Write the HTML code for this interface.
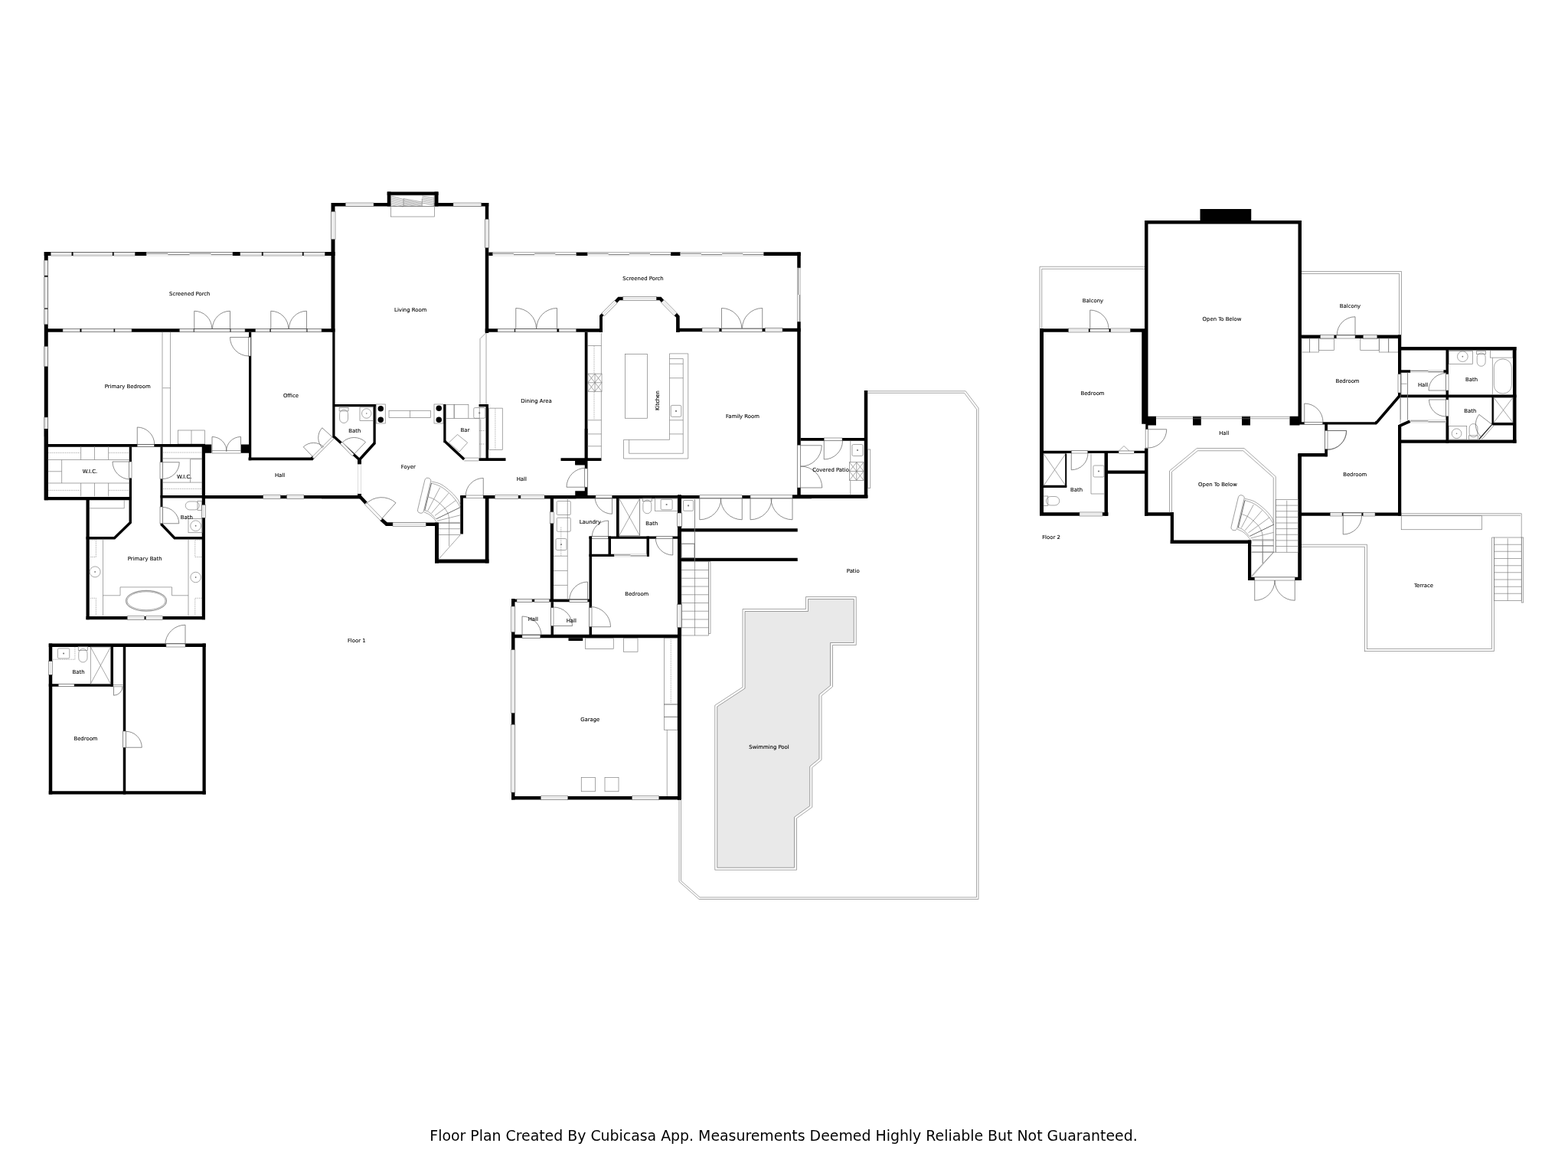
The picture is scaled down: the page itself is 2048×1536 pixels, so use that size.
<!DOCTYPE html>
<html><head><meta charset="utf-8"><title>Floor Plan</title>
<style>
html,body{margin:0;padding:0;background:#fff;}
body{width:2048px;height:1536px;overflow:hidden;position:relative;font-family:"DejaVu Sans","Liberation Sans",sans-serif;}
svg{position:absolute;left:0;top:0;display:block;opacity:.999;will-change:opacity}
.b{fill:#000}
.g{fill:#777}
.tub{fill:#fff;stroke:#999;stroke-width:1.2}
.w{fill:#fff}
.k{fill:none;stroke:#000;stroke-linecap:butt;stroke-linejoin:miter}
.t{fill:none;stroke:#777;stroke-width:.65}
.tf{fill:#fff;stroke:#777;stroke-width:.65}
.wn{fill:#fff;stroke:#555;stroke-width:.55}
.sl{fill:#fff;stroke:#bbb;stroke-width:.5}
.sp{fill:none;stroke:#8a8a8a;stroke-width:1.2}
.d{fill:none;stroke:#5c5c5c;stroke-width:.7}
.ti{fill:none;stroke:#999;stroke-width:.3}
.l{font-family:"DejaVu Sans","Liberation Sans",sans-serif;font-size:6.9px;fill:#000;stroke:#000;stroke-width:.12;text-anchor:middle}
.cap{font-family:"DejaVu Sans","Liberation Sans",sans-serif;font-size:18.9px;fill:#000;text-anchor:middle}
</style></head><body>
<svg width="2048" height="1536" viewBox="0 0 2048 1536">
<rect class="b" x="57.75" y="329" width="379.75" height="5"/>
<rect class="wn" x="66.25" y="329.5" width="27.5" height="4.5"/>
<path class="ti" d="M66.25 331.12 H93.75"/>
<path class="ti" d="M66.25 332.38 H93.75"/>
<rect class="wn" x="95.5" y="329.5" width="51.5" height="4.5"/>
<path class="ti" d="M95.5 331.12 H147"/>
<path class="ti" d="M95.5 332.38 H147"/>
<rect class="wn" x="148.75" y="329.5" width="27.5" height="4.5"/>
<path class="ti" d="M148.75 331.12 H176.25"/>
<path class="ti" d="M148.75 332.38 H176.25"/>
<rect class="wn" x="313.75" y="329.5" width="28.25" height="4.5"/>
<path class="ti" d="M313.75 331.12 H342"/>
<path class="ti" d="M313.75 332.38 H342"/>
<rect class="wn" x="343.75" y="329.5" width="51.25" height="4.5"/>
<path class="ti" d="M343.75 331.12 H395"/>
<path class="ti" d="M343.75 332.38 H395"/>
<rect class="wn" x="396.75" y="329.5" width="27.5" height="4.5"/>
<path class="ti" d="M396.75 331.12 H424.25"/>
<path class="ti" d="M396.75 332.38 H424.25"/>
<rect class="sl" x="191.25" y="329.75" width="112.5" height="4.25"/>
<path class="sp" d="M191.25 331.28 H219.38"/>
<path class="sp" d="M219.38 332.47 H247.5"/>
<path class="sp" d="M247.5 331.28 H275.62"/>
<path class="sp" d="M275.62 332.47 H303.75"/>
<rect class="b" x="57.75" y="329" width="5" height="324"/>
<rect class="wn" x="58" y="340" width="4.5" height="20"/>
<path class="ti" d="M59.62 340 V360"/>
<path class="ti" d="M60.88 340 V360"/>
<rect class="wn" x="58" y="361.75" width="4.5" height="40.75"/>
<path class="ti" d="M59.62 361.75 V402.5"/>
<path class="ti" d="M60.88 361.75 V402.5"/>
<rect class="wn" x="58" y="403.75" width="4.5" height="20"/>
<path class="ti" d="M59.62 403.75 V423.75"/>
<path class="ti" d="M60.88 403.75 V423.75"/>
<rect class="wn" x="58" y="452.5" width="4.5" height="26.25"/>
<path class="ti" d="M59.62 452.5 V478.75"/>
<path class="ti" d="M60.88 452.5 V478.75"/>
<rect class="wn" x="58" y="545" width="4.5" height="25"/>
<path class="ti" d="M59.62 545 V570"/>
<path class="ti" d="M60.88 545 V570"/>
<rect class="b" x="58" y="429.25" width="379.5" height="4.5"/>
<rect class="wn" x="82" y="429.25" width="22.5" height="4.5"/>
<path class="ti" d="M82 430.87 H104.5"/>
<path class="ti" d="M82 432.13 H104.5"/>
<rect class="wn" x="106.25" y="429.25" width="42.5" height="4.5"/>
<path class="ti" d="M106.25 430.87 H148.75"/>
<path class="ti" d="M106.25 432.13 H148.75"/>
<rect class="wn" x="150" y="429.25" width="22" height="4.5"/>
<path class="ti" d="M150 430.87 H172"/>
<path class="ti" d="M150 432.13 H172"/>
<rect class="wn" x="234.5" y="429.25" width="18.5" height="4.5"/>
<path class="ti" d="M234.5 430.87 H253"/>
<path class="ti" d="M234.5 432.13 H253"/>
<rect class="wn" x="301.25" y="429.25" width="18.75" height="4.5"/>
<path class="ti" d="M301.25 430.87 H320"/>
<path class="ti" d="M301.25 432.13 H320"/>
<rect class="wn" x="333.75" y="429.25" width="18.75" height="4.5"/>
<path class="ti" d="M333.75 430.87 H352.5"/>
<path class="ti" d="M333.75 432.13 H352.5"/>
<rect class="wn" x="401.25" y="429.25" width="18.75" height="4.5"/>
<path class="ti" d="M401.25 430.87 H420"/>
<path class="ti" d="M401.25 432.13 H420"/>
<rect class="wn" x="253.75" y="429.75" width="46.75" height="4"/>
<path class="d" d="M253.75 429.25 L253.75 406.25 A23 23 0 0 1 276.75 429.25"/>
<path class="d" d="M300.5 429.25 L300.5 406.25 A23 23 0 0 0 277.5 429.25"/>
<rect class="wn" x="353.75" y="429.75" width="46.75" height="4"/>
<path class="d" d="M353.75 429.25 L353.75 406.25 A23 23 0 0 1 376.75 429.25"/>
<path class="d" d="M400.5 429.25 L400.5 406.25 A23 23 0 0 0 377.5 429.25"/>
<rect class="b" x="432.5" y="265" width="5" height="168.75"/>
<rect class="b" x="434.25" y="433.75" width="3.25" height="138.25"/>
<rect class="wn" x="432.5" y="276.25" width="5.5" height="36.25"/>
<path class="ti" d="M434.48 276.25 V312.5"/>
<path class="ti" d="M436.02 276.25 V312.5"/>
<rect class="b" x="325" y="433.75" width="3.25" height="167.5"/>
<rect class="wn" x="324.5" y="440.5" width="3" height="24.5"/>
<path class="d" d="M325 440.5 L300.5 440.5 A24.5 24.5 0 0 0 325 465"/>
<rect class="b" x="324.5" y="597.5" width="84.25" height="3.75"/>
<path class="k" stroke-width="4" d="M407 599.5 L409.5 597"/>
<path class="wn" d="M407.62 596.87 L433.87 570.62 L436.13 572.88 L409.88 599.13 Z"/>
<path class="d" d="M409.5 597.5 L396.25 583.75 A19.1 19.1 0 0 1 422.81 583.8"/>
<path class="d" d="M435 571.75 L420.75 558.75 A19.29 19.29 0 0 0 421.43 585.46"/>
<rect class="b" x="58" y="580" width="208.25" height="3.5"/>
<rect class="wn" x="179.25" y="580.5" width="22" height="3"/>
<path class="d" d="M179.25 580.5 L179.25 558 A22.5 22.5 0 0 1 201.75 580.5"/>
<path class="t" d="M212 433.75 L212 580"/>
<path class="t" d="M222.5 433.75 L222.5 580"/>
<path class="t" d="M212.5 506.75 L222.5 506.75"/>
<rect class="t" x="232.5" y="562" width="35" height="18"/>
<path class="t" d="M250 562 L250 580"/>
<rect class="b" x="433" y="265" width="77.5" height="4.5"/>
<rect class="b" x="567.5" y="265" width="70.75" height="4.5"/>
<rect class="wn" x="451.25" y="265" width="36.75" height="4.5"/>
<path class="ti" d="M451.25 266.62 H488"/>
<path class="ti" d="M451.25 267.88 H488"/>
<rect class="wn" x="592" y="265" width="36.75" height="4.5"/>
<path class="ti" d="M592 266.62 H628.75"/>
<path class="ti" d="M592 267.88 H628.75"/>
<rect class="b" x="505.75" y="250.5" width="66.75" height="4.5"/>
<rect class="b" x="505.75" y="250.5" width="4.75" height="19"/>
<rect class="b" x="567.5" y="250.5" width="5" height="19"/>
<rect class="t" x="510.5" y="255" width="56.5" height="14.5"/>
<path class="t" d="M527 259.5 L527 269.5"/>
<path class="t" d="M551.25 259.5 L551.25 269.5"/>
<path class="t" d="M510.5 256 L527 260.5"/>
<path class="t" d="M527 259.5 L551.25 264"/>
<path class="t" d="M510.5 258.25 L527 262.75"/>
<path class="t" d="M527 261.25 L551.25 265.75"/>
<path class="t" d="M510.5 260.5 L527 265"/>
<path class="t" d="M527 263 L551.25 267.5"/>
<path class="t" d="M510.5 262.75 L527 267.25"/>
<path class="t" d="M527 264.75 L551.25 269.25"/>
<path class="t" d="M510.5 265 L527 269.5"/>
<path class="t" d="M527 266.5 L543.17 269.5"/>
<path class="t" d="M510.5 267.25 L518.75 269.5"/>
<path class="t" d="M527 268.25 L533.74 269.5"/>
<path class="t" d="M510.5 269.5 L510.5 269.5"/>
<path class="t" d="M527 270 L524.31 269.5"/>
<path class="t" d="M551.25 256 L567 259"/>
<path class="t" d="M551.25 258.25 L567 261.25"/>
<path class="t" d="M551.25 260.5 L567 263.5"/>
<path class="t" d="M551.25 262.75 L567 265.75"/>
<path class="t" d="M551.25 265 L567 268"/>
<rect class="t" x="510.5" y="269.5" width="57" height="13.5"/>
<rect class="b" x="633.75" y="265" width="4.5" height="170"/>
<rect class="wn" x="633.75" y="286.25" width="4.5" height="37.5"/>
<path class="ti" d="M635.37 286.25 V323.75"/>
<path class="ti" d="M636.63 286.25 V323.75"/>
<rect class="b" x="638.25" y="329.5" width="406.75" height="4.5"/>
<rect class="sl" x="643.75" y="329.75" width="108.75" height="4.25"/>
<path class="sp" d="M643.75 331.28 H670.94"/>
<path class="sp" d="M670.94 332.47 H698.12"/>
<path class="sp" d="M698.12 331.28 H725.31"/>
<path class="sp" d="M725.31 332.47 H752.5"/>
<rect class="sl" x="767.5" y="329.75" width="108.75" height="4.25"/>
<path class="sp" d="M767.5 331.28 H794.69"/>
<path class="sp" d="M794.69 332.47 H821.88"/>
<path class="sp" d="M821.88 331.28 H849.06"/>
<path class="sp" d="M849.06 332.47 H876.25"/>
<rect class="sl" x="888.75" y="329.75" width="108.75" height="4.25"/>
<path class="sp" d="M888.75 331.28 H915.94"/>
<path class="sp" d="M915.94 332.47 H943.12"/>
<path class="sp" d="M943.12 331.28 H970.31"/>
<path class="sp" d="M970.31 332.47 H997.5"/>
<rect class="b" x="633.75" y="429.25" width="153.25" height="4.5"/>
<rect class="wn" x="650" y="429.25" width="22" height="4.5"/>
<path class="ti" d="M650 430.87 H672"/>
<path class="ti" d="M650 432.13 H672"/>
<rect class="wn" x="730" y="429.25" width="22.5" height="4.5"/>
<path class="ti" d="M730 430.87 H752.5"/>
<path class="ti" d="M730 432.13 H752.5"/>
<rect class="wn" x="673" y="429.75" width="54.5" height="4"/>
<path class="d" d="M673.75 429.25 L673.75 402.5 A26.75 26.75 0 0 1 700.5 429.25"/>
<path class="d" d="M727.5 429.25 L727.5 402.5 A26.75 26.75 0 0 0 700.75 429.25"/>
<path class="k" stroke-width="3.9" d="M785 434 L785 412.8 L788.2 409.6"/>
<path class="k" stroke-width="4.5" d="M803.8 394.8 L808.3 390 L813.8 390"/>
<rect class="wn" x="813.8" y="387.3" width="43.7" height="5.3"/>
<path class="ti" d="M813.8 389.21 H857.5"/>
<path class="ti" d="M813.8 390.69 H857.5"/>
<path class="k" stroke-width="4.5" d="M857.5 390 L862.5 390 L866 394"/>
<path class="k" stroke-width="4.6" d="M881.8 410 L885.4 413.6 L885.4 434"/>
<path class="wn" d="M785.83 409.13 L802.63 392.33 L806.17 395.87 L789.37 412.67 Z"/>
<path class="ti" d="M787.11 410.41 L803.91 393.61"/>
<path class="ti" d="M788.09 411.39 L804.89 394.59"/>
<path class="wn" d="M867.18 391.64 L884.18 408.84 L880.62 412.36 L863.62 395.16 Z"/>
<path class="ti" d="M865.9 392.91 L882.9 410.11"/>
<path class="ti" d="M864.9 393.89 L881.9 411.09"/>
<rect class="b" x="763.75" y="433.75" width="3.75" height="167.5"/>
<rect class="b" x="625.5" y="598.25" width="35" height="3.75"/>
<rect class="b" x="732.5" y="598.25" width="53" height="3.75"/>
<rect class="b" x="751.25" y="602" width="15" height="5.5"/>
<rect class="b" x="435" y="528" width="55.75" height="3.25"/>
<rect class="b" x="487.5" y="528" width="3.25" height="52"/>
<path class="k" stroke-width="3.6" d="M489.25 578.75 L469.5 600.5 L436.5 570.5"/>
<rect class="t" x="491.25" y="528" width="12" height="25"/>
<rect class="t" x="567" y="528" width="12" height="25"/>
<circle class="b" cx="497.25" cy="533.75" r="3.75"/>
<circle class="b" cx="497.25" cy="548.25" r="3.75"/>
<circle class="b" cx="573.25" cy="533.25" r="3.75"/>
<circle class="b" cx="573.25" cy="548.25" r="3.75"/>
<rect class="t" x="508" y="536.25" width="54.5" height="9.25"/>
<path class="t" d="M535.5 536.25 L535.5 545.5"/>
<rect class="b" x="579.25" y="528" width="3.25" height="50"/>
<path class="k" stroke-width="3.6" d="M580.75 576.25 L606.25 600"/>
<rect class="b" x="634.5" y="528" width="3.5" height="74"/>
<rect class="b" x="625.5" y="528" width="12.5" height="3.25"/>
<path class="t" d="M635 435 L635 528"/>
<path class="t" d="M627 442.5 L627 528"/>
<path class="t" d="M627 442.5 L634.5 435"/>
<rect class="b" x="58" y="580" width="208.25" height="3.5"/>
<rect class="wn" x="179.25" y="580.5" width="22" height="3"/>
<rect class="b" x="57.75" y="560" width="5" height="93.25"/>
<rect class="b" x="58" y="649" width="113.75" height="4.25"/>
<rect class="b" x="168.75" y="583.5" width="3.25" height="66.5"/>
<rect class="wn" x="168.75" y="603" width="3.25" height="21.5"/>
<path class="d" d="M170 603 L147 603 A23 23 0 0 0 170 626"/>
<rect class="b" x="209.5" y="583.5" width="3" height="102.75"/>
<rect class="wn" x="209" y="603.75" width="3.5" height="21.75"/>
<path class="d" d="M212.5 603.75 L234.25 603.75 A21.75 21.75 0 0 1 212.5 625.5"/>
<rect class="wn" x="209" y="662" width="3.5" height="21.75"/>
<path class="d" d="M212.5 683.75 L233.75 683.75 A21.25 21.25 0 0 0 212.5 662.5"/>
<rect class="b" x="263.75" y="580" width="4.25" height="229.25"/>
<rect class="wn" x="263.25" y="659.5" width="5" height="16.75"/>
<path class="ti" d="M265.05 659.5 V676.25"/>
<path class="ti" d="M266.45 659.5 V676.25"/>
<rect class="b" x="209.5" y="647" width="56.75" height="3.5"/>
<rect class="b" x="266.25" y="647" width="204.25" height="4.25"/>
<rect class="wn" x="343.75" y="646.5" width="22.5" height="5"/>
<path class="ti" d="M343.75 648.3 H366.25"/>
<path class="ti" d="M343.75 649.7 H366.25"/>
<rect class="wn" x="374.5" y="646.5" width="22.5" height="5"/>
<path class="ti" d="M374.5 648.3 H397"/>
<path class="ti" d="M374.5 649.7 H397"/>
<rect class="b" x="265" y="580.5" width="11.25" height="11.25"/>
<rect class="b" x="315" y="580.5" width="11.75" height="11.25"/>
<rect class="wn" x="277" y="588.75" width="37.5" height="3.25"/>
<path class="d" d="M277 589.5 L277 570.5 A19 19 0 0 1 296 589.5"/>
<path class="d" d="M314.5 589.5 L314.5 570.5 A19 19 0 0 0 295.5 589.5"/>
<rect class="b" x="112.5" y="651.25" width="4.25" height="158"/>
<rect class="b" x="112.5" y="805" width="155.5" height="4.25"/>
<rect class="wn" x="166.25" y="804.75" width="22.5" height="4.75"/>
<path class="ti" d="M166.25 806.46 H188.75"/>
<path class="ti" d="M166.25 807.79 H188.75"/>
<rect class="wn" x="190.5" y="804.75" width="22" height="4.75"/>
<path class="ti" d="M190.5 806.46 H212.5"/>
<path class="ti" d="M190.5 807.79 H212.5"/>
<path class="k" stroke-width="3.4" d="M112.5 702.75 L149.5 702.75 L170.25 682.5 L170.25 650"/>
<path class="k" stroke-width="3.4" d="M211 685 L228 702.75 L266.25 702.75"/>
<rect class="b" x="63.75" y="840.5" width="205" height="4.5"/>
<rect class="wn" x="217" y="841" width="25" height="4"/>
<path class="d" d="M242 842.5 L242 816.25 A26.25 26.25 0 0 0 215.75 842.5"/>
<rect class="b" x="63.75" y="840.5" width="4.5" height="197"/>
<rect class="wn" x="63.25" y="863.75" width="5.5" height="17.5"/>
<path class="ti" d="M65.23 863.75 V881.25"/>
<path class="ti" d="M66.77 863.75 V881.25"/>
<rect class="b" x="63.75" y="893.25" width="83.75" height="3.5"/>
<rect class="wn" x="76.25" y="893.25" width="20.75" height="3.5"/>
<rect class="b" x="144.5" y="845" width="3.5" height="51.75"/>
<rect class="b" x="160.75" y="845" width="3.5" height="192.5"/>
<rect class="b" x="264.5" y="840.5" width="4.25" height="197"/>
<rect class="b" x="63.75" y="1033.25" width="205" height="4.25"/>
<rect class="t" x="118.25" y="845" width="26.25" height="48.25"/>
<path class="t" d="M118.25 845 L144.5 893.25"/>
<path class="t" d="M144.5 845 L118.25 893.25"/>
<path class="d" d="M148.5 896.75 L148.5 908.25 A11.5 11.5 0 0 0 160 896.75"/>
<path class="t" d="M148 894.5 L160.5 894.5"/>
<path class="t" d="M148 896.75 L160.5 896.75"/>
<rect class="wn" x="160.75" y="955" width="3.5" height="21.25"/>
<path class="d" d="M164.25 976.25 L185.25 976.25 A21 21 0 0 0 164.25 955.25"/>
<rect x="467.6" y="606.3" width="4" height="38.7" fill="#fff" stroke="#aaa" stroke-width=".4"/>
<rect class="b" x="467" y="600" width="5" height="6.25"/>
<rect class="b" x="467" y="645" width="5" height="2.5"/>
<rect class="b" x="420" y="647" width="50" height="4.25"/>
<path class="k" stroke-width="4.5" d="M469.5 648 L478 657"/>
<path class="k" stroke-width="4.5" d="M497.5 678 L505 684.75 L513 684.75"/>
<path class="wn" d="M478.79 656.24 L499.54 677.49 L496.96 680.01 L476.21 658.76 Z"/>
<path class="d" d="M498.25 678 L517 656.75 A28.34 28.34 0 0 0 477.61 658.58"/>
<rect class="b" x="503.75" y="682.5" width="68.75" height="4.5"/>
<rect class="wn" x="513" y="682.25" width="43.25" height="5"/>
<path class="ti" d="M513 684.05 H556.25"/>
<path class="ti" d="M513 685.45 H556.25"/>
<rect class="b" x="568" y="682.5" width="5" height="53"/>
<rect class="b" x="568" y="730.5" width="70.5" height="5"/>
<rect class="b" x="633.75" y="647.5" width="4.75" height="88"/>
<rect class="b" x="601.25" y="647.5" width="3.75" height="50"/>
<rect class="b" x="601.25" y="647" width="8" height="3.5"/>
<rect class="wn" x="608.75" y="647" width="22.5" height="3.5"/>
<path class="d" d="M631.25 647.5 L631.25 624.5 A23 23 0 0 0 608.25 647.5"/>
<rect class="b" x="631.25" y="647" width="121.25" height="4.25"/>
<rect class="wn" x="646.25" y="646.75" width="30.75" height="4.75"/>
<path class="ti" d="M646.25 648.46 H677"/>
<path class="ti" d="M646.25 649.79 H677"/>
<rect class="wn" x="680" y="646.75" width="31.25" height="4.75"/>
<path class="ti" d="M680 648.46 H711.25"/>
<path class="ti" d="M680 649.79 H711.25"/>
<rect class="b" x="763.75" y="560" width="3.75" height="88.75"/>
<rect class="b" x="751.25" y="601.25" width="15" height="5.75"/>
<rect class="b" x="751.25" y="641.25" width="15" height="6.25"/>
<rect class="wn" x="763.75" y="612" width="3.75" height="24.25"/>
<path class="d" d="M765 636.25 L740 636.25 A25 25 0 0 1 765 611.25"/>
<rect class="b" x="711.25" y="647" width="348.75" height="4.25"/>
<rect class="b" x="718.75" y="648.75" width="4.25" height="137.5"/>
<rect class="wn" x="718.25" y="668.75" width="5" height="15"/>
<path class="ti" d="M720.05 668.75 V683.75"/>
<path class="ti" d="M721.45 668.75 V683.75"/>
<rect class="wn" x="778" y="647" width="21.5" height="3.5"/>
<path class="d" d="M799.5 648.75 L799.5 671.25 A22.5 22.5 0 0 1 777 648.75"/>
<path class="d" d="M794.5 701.25 L794.5 680 A21.25 21.25 0 0 0 773.25 701.25"/>
<rect class="b" x="769.5" y="700.5" width="118" height="3.25"/>
<rect class="wn" x="773" y="700.5" width="21.5" height="3.25"/>
<rect class="b" x="769.5" y="700.5" width="3.5" height="130.75"/>
<rect class="b" x="794.5" y="700.5" width="3.5" height="26.5"/>
<rect class="b" x="769.5" y="723.75" width="33" height="3.25"/>
<rect class="b" x="844.5" y="700.5" width="3.5" height="26.5"/>
<rect class="sl" x="802.5" y="723.75" width="42" height="3.25"/>
<path class="sp" d="M802.5 724.92 H823.5"/>
<path class="sp" d="M823.5 725.83 H844.5"/>
<rect class="b" x="805" y="648.75" width="3.75" height="53.25"/>
<rect class="t" x="808.75" y="651.25" width="26.75" height="48.25"/>
<path class="t" d="M808.75 651.25 L835.5 699.5"/>
<path class="t" d="M835.5 651.25 L808.75 699.5"/>
<rect class="b" x="885.5" y="647.5" width="4.5" height="185.75"/>
<rect class="wn" x="885" y="670" width="5.25" height="18.75"/>
<path class="ti" d="M886.89 670 V688.75"/>
<path class="ti" d="M888.36 670 V688.75"/>
<rect class="wn" x="857" y="700.5" width="21.75" height="3.25"/>
<path class="d" d="M878.75 702.5 L878.75 725 A22.5 22.5 0 0 1 856.25 702.5"/>
<rect class="wn" x="885" y="788.75" width="5.25" height="31.25"/>
<path class="ti" d="M886.89 788.75 V820"/>
<path class="ti" d="M888.36 788.75 V820"/>
<rect class="b" x="668" y="828.75" width="222" height="4.5"/>
<rect class="wn" x="769.5" y="793.75" width="3.5" height="25"/>
<path class="d" d="M771.25 818.75 L797.5 818.75 A26.25 26.25 0 0 0 771.25 792.5"/>
<rect class="b" x="668" y="782.5" width="102" height="3.75"/>
<rect class="wn" x="675" y="782.25" width="20" height="4.25"/>
<path class="ti" d="M675 783.78 H695"/>
<path class="ti" d="M675 784.97 H695"/>
<rect class="wn" x="698" y="782.25" width="19.5" height="4.25"/>
<path class="ti" d="M698 783.78 H717.5"/>
<path class="ti" d="M698 784.97 H717.5"/>
<rect class="wn" x="743.75" y="783.25" width="23.75" height="3"/>
<path class="d" d="M767.5 783.75 L767.5 760 A23.75 23.75 0 0 0 743.75 783.75"/>
<rect class="b" x="719.5" y="786.25" width="3.5" height="43.75"/>
<rect class="wn" x="719.5" y="793.75" width="3.5" height="23.75"/>
<path class="d" d="M723 817.5 L747.5 817.5 A24.5 24.5 0 0 0 723 793"/>
<rect class="wn" x="682" y="829.5" width="23.75" height="3.75"/>
<path class="d" d="M682 830 L682 805 A25 25 0 0 1 707 830"/>
<rect class="b" x="742.5" y="833.25" width="18.75" height="3.75"/>
<rect class="b" x="668" y="782" width="4.5" height="262.5"/>
<rect class="wn" x="667.5" y="792" width="5.25" height="33.5"/>
<path class="ti" d="M669.39 792 V825.5"/>
<path class="ti" d="M670.86 792 V825.5"/>
<rect class="wn" x="667.5" y="848.75" width="5.25" height="82.5"/>
<path class="ti" d="M669.39 848.75 V931.25"/>
<path class="ti" d="M670.86 848.75 V931.25"/>
<rect class="wn" x="667.5" y="946.25" width="5.25" height="88.75"/>
<path class="ti" d="M669.39 946.25 V1035"/>
<path class="ti" d="M670.86 946.25 V1035"/>
<rect class="b" x="668" y="1040" width="222" height="4.5"/>
<rect class="wn" x="706.25" y="1039.75" width="35.5" height="5"/>
<path class="ti" d="M706.25 1041.55 H741.75"/>
<path class="ti" d="M706.25 1042.95 H741.75"/>
<rect class="wn" x="825.5" y="1039.75" width="35.25" height="5"/>
<path class="ti" d="M825.5 1041.55 H860.75"/>
<path class="ti" d="M825.5 1042.95 H860.75"/>
<rect class="b" x="885" y="830" width="5" height="214.5"/>
<rect class="t" x="764.5" y="833.75" width="36.75" height="13.75"/>
<rect class="t" x="814.5" y="833.75" width="18.5" height="17.5"/>
<rect class="t" x="759.25" y="1015.5" width="18.25" height="18.25"/>
<rect class="t" x="790" y="1015.5" width="18" height="18.25"/>
<rect class="t" x="867.5" y="833.25" width="17.5" height="86.75"/>
<rect class="t" x="867.5" y="920" width="17.5" height="16.25"/>
<rect class="t" x="867.5" y="936.25" width="17.5" height="17"/>
<path class="t" d="M871.25 953.25 L871.25 1040"/>
<path class="t" stroke-dasharray="1.2 1.2" d="M876.25 835 L876.25 918.75"/>
<rect class="b" x="876.25" y="329.5" width="12.5" height="4.5"/>
<rect class="sl" x="888.75" y="329.75" width="108.75" height="4.25"/>
<path class="sp" d="M888.75 331.28 H915.94"/>
<path class="sp" d="M915.94 332.47 H943.12"/>
<path class="sp" d="M943.12 331.28 H970.31"/>
<path class="sp" d="M970.31 332.47 H997.5"/>
<rect class="b" x="997.5" y="329.5" width="48.25" height="4.5"/>
<rect class="b" x="1041.25" y="329.5" width="4.5" height="320.5"/>
<rect class="sl" x="1041.5" y="350" width="4.25" height="70"/>
<path class="sp" d="M1043.03 350 V385"/>
<path class="sp" d="M1044.22 385 V420"/>
<rect class="b" x="883.75" y="428.75" width="162" height="4.5"/>
<rect class="wn" x="917" y="428.5" width="22.5" height="5"/>
<path class="ti" d="M917 430.3 H939.5"/>
<path class="ti" d="M917 431.7 H939.5"/>
<rect class="wn" x="999.25" y="428.5" width="22.75" height="5"/>
<path class="ti" d="M999.25 430.3 H1022"/>
<path class="ti" d="M999.25 431.7 H1022"/>
<rect class="wn" x="942.5" y="429.25" width="53.25" height="4"/>
<path class="d" d="M942.5 428.75 L942.5 402.5 A26.25 26.25 0 0 1 968.75 428.75"/>
<path class="d" d="M995.75 428.75 L995.75 402.5 A26.25 26.25 0 0 0 969.5 428.75"/>
<rect class="b" x="1045.75" y="572" width="86.75" height="3.75"/>
<rect class="wn" x="1076.25" y="572" width="23.75" height="3.75"/>
<path class="d" d="M1076.25 575.75 L1076.25 600 A24.25 24.25 0 0 0 1100.5 575.75"/>
<rect class="b" x="1128.75" y="510" width="4.5" height="140"/>
<rect class="b" x="860" y="647.25" width="273.25" height="3.5"/>
<rect class="b" x="1035" y="646.25" width="98.25" height="4.5"/>
<rect class="wn" x="913.75" y="646.75" width="55.5" height="4"/>
<rect class="wn" x="980" y="646.75" width="55" height="4"/>
<rect class="wn" x="1041.25" y="581.25" width="4.5" height="55.75"/>
<path class="d" d="M1045.75 581.75 L1073.25 581.75 A27.5 27.5 0 0 1 1045.75 609.25"/>
<path class="d" d="M1045.75 637 L1073.75 637 A28 28 0 0 0 1045.75 609"/>
<path class="d" d="M913.75 650.75 L913.75 678.75 A28 28 0 0 0 941.75 650.75"/>
<path class="d" d="M969.25 650.75 L969.25 678.75 A28 28 0 0 1 941.25 650.75"/>
<path class="d" d="M980 650.75 L980 678.75 A28 28 0 0 0 1008 650.75"/>
<path class="d" d="M1035 650.75 L1035 678.75 A28 28 0 0 1 1007 650.75"/>
<path class="t" d="M1110.75 575.75 L1110.75 646.25"/>
<rect class="t" x="1133.25" y="587" width="3.5" height="50.5"/>
<rect class="b" x="885" y="646.25" width="5" height="398.75"/>
<rect class="wn" x="884.75" y="670" width="5.5" height="17.5"/>
<path class="ti" d="M886.73 670 V687.5"/>
<path class="ti" d="M888.27 670 V687.5"/>
<rect class="wn" x="884.75" y="789.5" width="5.5" height="30"/>
<path class="ti" d="M886.73 789.5 V819.5"/>
<path class="ti" d="M888.27 789.5 V819.5"/>
<rect class="b" x="890" y="690.25" width="151.75" height="4.25"/>
<rect class="b" x="890" y="728.75" width="151.75" height="4.25"/>
<rect class="t" x="890" y="733.75" width="35.5" height="96.25"/>
<path class="t" d="M890 744.5 L925.5 744.5"/>
<path class="t" d="M890 755.25 L925.5 755.25"/>
<path class="t" d="M890 766 L925.5 766"/>
<path class="t" d="M890 776.75 L925.5 776.75"/>
<path class="t" d="M890 787.5 L925.5 787.5"/>
<path class="t" d="M890 798.25 L925.5 798.25"/>
<path class="t" d="M890 809 L925.5 809"/>
<path class="t" d="M890 819.75 L925.5 819.75"/>
<path class="t" d="M907.5 652.5 L907.5 830"/>
<rect class="t" x="925.5" y="733.75" width="2.5" height="93.75"/>
<rect class="t" x="890" y="710" width="17.5" height="18.75"/>
<path class="t" d="M1052.5 779.5 L1118.25 779.5 L1118.25 842.5 L1087.5 842.5 L1087.5 897 L1073 908.75 L1073 992.5 L1060.75 1002.5 L1060.75 1054.25 L1040.5 1068.75 L1040.5 1136.25 L933.75 1136.25 L933.75 921.25 L970 897.5 L970 795.5 L1052.5 795.5 Z"/>
<path d="M1055.5 782.5 L1115.25 782.5 L1115.25 839.5 L1084.5 839.5 L1084.5 895.5 L1070 907.3 L1070 991 L1057.75 1001 L1057.75 1052.7 L1037.5 1067.2 L1037.5 1133.25 L936.75 1133.25 L936.75 922.9 L973 899.1 L973 798.5 L1055.5 798.5 Z" fill="#e9e9e9" stroke="#777" stroke-width=".7"/>
<path class="t" d="M1133 510.8 L1261.2 510.8 L1278 533 L1278 1174.5 L913 1174.5 L887 1151.5 L887 1044"/>
<path class="t" d="M1133 513.3 L1259.5 513.3 L1275.5 534.5 L1275.5 1172 L914 1172 L889.5 1150.5 L889.5 1044"/>
<rect class="b" x="1495" y="288" width="205" height="4.5"/>
<rect class="b" x="1567.5" y="273" width="66.75" height="15"/>
<rect class="b" x="1495" y="288" width="4.5" height="265.75"/>
<rect class="b" x="1695.5" y="288" width="4.5" height="265.75"/>
<rect class="b" x="1491.25" y="430" width="5" height="123.75"/>
<rect class="b" x="1497" y="543.75" width="13" height="11.75"/>
<rect class="b" x="1558" y="543.75" width="10.75" height="11.75"/>
<rect class="b" x="1622" y="543.75" width="11" height="11.75"/>
<rect class="b" x="1684.5" y="543.75" width="13" height="11.75"/>
<path class="t" d="M1510 544.25 L1684.5 544.25"/>
<path class="t" d="M1510 546.75 L1684.5 546.75"/>
<path class="t" d="M1495 348.25 L1358 348.25 L1358 429.25"/>
<path class="t" d="M1495 351.25 L1360.75 351.25 L1360.75 429.25"/>
<rect class="b" x="1358" y="429.25" width="137" height="4.5"/>
<rect class="wn" x="1395.5" y="429" width="26.5" height="5"/>
<path class="ti" d="M1395.5 430.8 H1422"/>
<path class="ti" d="M1395.5 432.2 H1422"/>
<rect class="wn" x="1450.75" y="429" width="25.5" height="5"/>
<path class="ti" d="M1450.75 430.8 H1476.25"/>
<path class="ti" d="M1450.75 432.2 H1476.25"/>
<rect class="wn" x="1423.75" y="429.75" width="25" height="4"/>
<path class="d" d="M1423.75 429.25 L1423.75 405 A24.25 24.25 0 0 1 1448 429.25"/>
<rect class="b" x="1358" y="429.25" width="5" height="243.75"/>
<rect class="b" x="1358" y="588.75" width="139.5" height="3.25"/>
<rect class="wn" x="1399.25" y="588.75" width="21.5" height="3.25"/>
<path class="d" d="M1399.25 592 L1399.25 613.75 A21.75 21.75 0 0 0 1421 592"/>
<rect class="b" x="1496.25" y="553.75" width="3.25" height="7.5"/>
<path class="t" d="M1700 354.5 L1830.5 354.5 L1830.5 437.5"/>
<path class="t" d="M1700 357.5 L1827.5 357.5 L1827.5 437.5"/>
<rect class="b" x="1698" y="437.5" width="132" height="4.5"/>
<rect class="wn" x="1724.5" y="437.25" width="18" height="5"/>
<path class="ti" d="M1724.5 439.05 H1742.5"/>
<path class="ti" d="M1724.5 440.45 H1742.5"/>
<rect class="wn" x="1780.5" y="437.25" width="18.25" height="5"/>
<path class="ti" d="M1780.5 439.05 H1798.75"/>
<path class="ti" d="M1780.5 440.45 H1798.75"/>
<rect class="wn" x="1745.5" y="438" width="24.5" height="4"/>
<path class="d" d="M1770 437.5 L1770 413.75 A23.75 23.75 0 0 0 1746.25 437.5"/>
<rect class="t" x="1698" y="442" width="12.5" height="18"/>
<rect class="t" x="1710.5" y="442" width="12" height="18"/>
<rect class="t" x="1722.5" y="442" width="20" height="15.5"/>
<rect class="t" x="1776.75" y="442" width="24.5" height="15.5"/>
<rect class="t" x="1801.25" y="442" width="12.5" height="18"/>
<rect class="t" x="1813.75" y="442" width="12.5" height="18"/>
<rect class="b" x="1696.25" y="437.5" width="3" height="116.25"/>
<rect class="b" x="1696.25" y="551.25" width="101.75" height="3.25"/>
<rect class="wn" x="1703.75" y="551.25" width="23.75" height="3.25"/>
<path class="d" d="M1703.75 551.25 L1703.75 527 A24.25 24.25 0 0 1 1728 551.25"/>
<rect class="b" x="1730.5" y="553.75" width="3.25" height="42.5"/>
<rect class="wn" x="1730.5" y="562.5" width="3.25" height="24.5"/>
<path class="d" d="M1733.75 562.5 L1758.75 562.5 A25 25 0 0 1 1733.75 587.5"/>
<rect class="b" x="1696.25" y="592.5" width="37.5" height="3.75"/>
<rect class="b" x="1826" y="437.5" width="4.25" height="80.5"/>
<rect class="wn" x="1826" y="488.75" width="3.75" height="24.25"/>
<path class="k" stroke-width="3.6" d="M1796 552 L1798 552 L1828 517"/>
<rect class="b" x="1826" y="453" width="154.5" height="4.5"/>
<rect class="b" x="1976" y="453" width="4.5" height="125.75"/>
<rect class="b" x="1826" y="574.5" width="154.5" height="4.25"/>
<rect class="b" x="1827.25" y="515.5" width="153.25" height="3.75"/>
<rect class="b" x="1888.5" y="453" width="3.5" height="125.75"/>
<rect class="b" x="1826" y="555" width="4.25" height="118.75"/>
<rect class="b" x="1827.25" y="483.25" width="15" height="3.5"/>
<rect class="sl" x="1842.25" y="483.25" width="46.25" height="3.5"/>
<path class="sp" d="M1842.25 484.51 H1865.38"/>
<path class="sp" d="M1865.38 485.49 H1888.5"/>
<rect class="b" x="1885.5" y="483.25" width="3.5" height="3.5"/>
<rect class="sl" x="1842.25" y="548.75" width="46.25" height="3.25"/>
<path class="sp" d="M1842.25 549.92 H1865.38"/>
<path class="sp" d="M1865.38 550.83 H1888.5"/>
<path class="k" stroke-width="3.6" d="M1828 556.25 L1841.5 550.25"/>
<rect class="wn" x="1888.5" y="488.75" width="3.5" height="21.25"/>
<path class="d" d="M1888.5 510 L1866 510 A22.5 22.5 0 0 1 1888.5 487.5"/>
<rect class="wn" x="1888.5" y="522" width="3.5" height="21.75"/>
<path class="d" d="M1888.5 522 L1866.5 522 A22 22 0 0 0 1888.5 544"/>
<path class="t" d="M1838.5 486.75 L1838.5 550"/>
<path class="t" d="M1829 519.25 L1829 552.5"/>
<rect class="b" x="1730.5" y="553.75" width="3.5" height="42"/>
<rect class="wn" x="1730.5" y="562.5" width="3.5" height="24.25"/>
<path class="d" d="M1734 562.5 L1758.5 562.5 A24.5 24.5 0 0 1 1734 587"/>
<rect class="b" x="1696" y="592" width="38" height="3.75"/>
<rect class="b" x="1695.5" y="592" width="4.25" height="165.5"/>
<rect class="b" x="1695.5" y="669.5" width="134.75" height="4.25"/>
<rect class="wn" x="1737.25" y="669.25" width="15.75" height="4.75"/>
<path class="ti" d="M1737.25 670.96 H1753"/>
<path class="ti" d="M1737.25 672.29 H1753"/>
<rect class="wn" x="1780.25" y="669.25" width="15.75" height="4.75"/>
<path class="ti" d="M1780.25 670.96 H1796"/>
<path class="ti" d="M1780.25 672.29 H1796"/>
<rect class="wn" x="1754.25" y="670" width="24.25" height="3.75"/>
<path class="d" d="M1754.25 673.75 L1754.25 698 A24.25 24.25 0 0 0 1778.5 673.75"/>
<rect class="b" x="1948.5" y="552" width="28.75" height="3.5"/>
<rect class="b" x="1948.5" y="517.5" width="2.5" height="36.25"/>
<rect class="t" x="1951" y="519.25" width="25" height="32.75"/>
<path class="t" d="M1951 519.25 L1976 552"/>
<path class="t" d="M1976 519.25 L1951 552"/>
<rect class="b" x="1358" y="669.25" width="89.5" height="4.5"/>
<rect class="wn" x="1410" y="669" width="30" height="5"/>
<path class="ti" d="M1410 670.8 H1440"/>
<path class="ti" d="M1410 672.2 H1440"/>
<rect class="b" x="1442.5" y="591.25" width="4.5" height="82.5"/>
<rect class="b" x="1445" y="614.5" width="52.5" height="4.25"/>
<rect class="b" x="1495" y="585.5" width="4.5" height="88.25"/>
<rect class="wn" x="1496.12" y="560.75" width="3.38" height="24.25"/>
<path class="d" d="M1499.5 560.75 L1523.75 560.75 A24.25 24.25 0 0 1 1499.5 585"/>
<rect class="b" x="1495" y="669.25" width="38" height="4.5"/>
<rect class="b" x="1528.75" y="669.25" width="4.25" height="40.75"/>
<rect class="b" x="1528.75" y="705.5" width="105.5" height="4.5"/>
<rect class="b" x="1630" y="705.5" width="4.25" height="52.5"/>
<rect class="b" x="1630" y="753.75" width="70" height="4.25"/>
<rect class="wn" x="1638.75" y="754" width="52.5" height="4"/>
<rect class="b" x="1695.5" y="593.75" width="4.5" height="164.25"/>
<path class="d" d="M1638.75 758 L1638.75 784.25 A26.25 26.25 0 0 0 1665 758"/>
<path class="d" d="M1691.25 758 L1691.25 784.25 A26.25 26.25 0 0 1 1665 758"/>
<rect class="b" x="1695.5" y="592.5" width="38.25" height="3.75"/>
<rect class="t" x="1363" y="592.5" width="29" height="42"/>
<path class="t" d="M1363 592.5 L1392 634.5"/>
<path class="t" d="M1392 592.5 L1363 634.5"/>
<rect class="b" x="1363" y="633.75" width="30.25" height="3.25"/>
<rect class="b" x="1391.25" y="592.5" width="2" height="43.75"/>
<path class="t" d="M1527.5 669.25 L1527.5 615 L1563.25 585.5 L1625 585.5 L1666.25 622.5 L1666.25 721.25"/>
<path class="t" d="M1530.5 669.25 L1530.5 616.25 L1564.25 588.75 L1623.75 588.75 L1663.25 623.75 L1663.25 721.25"/>
<rect class="t" x="1666.25" y="652.5" width="29.25" height="68.75"/>
<path class="t" d="M1666.25 660.12 L1695.5 660.12"/>
<path class="t" d="M1666.25 667.75 L1695.5 667.75"/>
<path class="t" d="M1666.25 675.38 L1695.5 675.38"/>
<path class="t" d="M1666.25 683 L1695.5 683"/>
<path class="t" d="M1666.25 690.62 L1695.5 690.62"/>
<path class="t" d="M1666.25 698.25 L1695.5 698.25"/>
<path class="t" d="M1666.25 705.88 L1695.5 705.88"/>
<path class="t" d="M1666.25 713.5 L1695.5 713.5"/>
<path class="t" d="M1680.75 653.75 L1680.75 721.25"/>
<path class="t" d="M1634.25 712.5 L1663.25 712.5"/>
<path class="t" d="M1634.25 721.25 L1666.25 721.25"/>
<path class="t" d="M1663.25 721.25 L1634.25 752.5"/>
<path class="t" d="M1649.25 706.25 L1649.25 735.5"/>
<path class="t" d="M1700 711.25 L1785.5 711.25 L1785.5 848"/>
<path class="t" d="M1700 714.25 L1782.5 714.25 L1782.5 851.25"/>
<path class="t" d="M1785.25 847.5 L1948.5 847.5 L1948.5 702"/>
<path class="t" d="M1782.25 850.5 L1951.5 850.5 L1951.5 702"/>
<path class="t" d="M1830.25 670.75 L1987.25 670.75 L1987.25 702"/>
<path class="t" d="M1830.25 673.25 L1986 673.25"/>
<rect class="t" x="1830.25" y="673.75" width="105.25" height="18"/>
<rect class="t" x="1951.5" y="702" width="35.75" height="82.5"/>
<rect class="t" x="1987.25" y="702" width="2.5" height="85"/>
<path class="t" d="M1948.5 702 L1951.5 702"/>
<path class="t" d="M1951.5 711.25 L1987.25 711.25"/>
<path class="t" d="M1951.5 720.25 L1987.25 720.25"/>
<path class="t" d="M1951.5 729.5 L1987.25 729.5"/>
<path class="t" d="M1951.5 738.75 L1987.25 738.75"/>
<path class="t" d="M1951.5 747.75 L1987.25 747.75"/>
<path class="t" d="M1951.5 757 L1987.25 757"/>
<path class="t" d="M1951.5 766.25 L1987.25 766.25"/>
<path class="t" d="M1951.5 775.25 L1987.25 775.25"/>
<path class="t" d="M1969.25 703.25 L1969.25 784.5"/>
<path class="t" d="M62.5 600.5 L169.12 600.5"/>
<path class="t" d="M62.5 631 L169.12 631"/>
<path class="t" d="M105.62 583 L105.62 600.5"/>
<path class="t" d="M105.62 631 L105.62 648.25"/>
<path class="t" d="M123.5 583 L123.5 600.5"/>
<path class="t" d="M123.5 631 L123.5 648.25"/>
<path class="t" d="M141.62 583 L141.62 600.5"/>
<path class="t" d="M141.62 631 L141.62 648.25"/>
<path class="t" d="M80.62 600.5 L80.62 631"/>
<path class="t" d="M62.5 615.75 L80.62 615.75"/>
<path class="t" stroke-dasharray="1.2 1.2" d="M63.5 591.38 L104.75 591.38"/>
<path class="t" stroke-dasharray="1.2 1.2" d="M142.25 591.38 L168.5 591.38"/>
<path class="t" stroke-dasharray="1.2 1.2" d="M63.5 640.38 L104.75 640.38"/>
<path class="t" stroke-dasharray="1.2 1.2" d="M142.25 640.38 L168.5 640.38"/>
<path class="t" d="M212.25 598.88 L264.12 598.88"/>
<path class="t" d="M212.25 630.12 L264.12 630.12"/>
<path class="t" d="M248.5 599.75 L248.5 630.12"/>
<path class="t" d="M248.5 599.75 L264.12 599.75"/>
<path class="t" stroke-dasharray="1.2 1.2" d="M213.5 591 L263.5 591"/>
<path class="t" stroke-dasharray="1.2 1.2" d="M213.5 638.5 L263.5 638.5"/>
<rect class="t" x="257.98" y="654.5" width="5.52" height="11.88"/>
<rect class="t" x="242.25" y="654.98" width="17.94" height="10.92" rx="5.46" ry="5.46"/>
<rect class="t" x="246" y="677.62" width="18.12" height="18.13"/>
<circle class="t" cx="255.62" cy="686.75" r="6.88"/>
<circle class="g" cx="255.62" cy="686.75" r="0.89"/>
<path class="t" d="M116.62 663.88 L162.25 663.88 L162.25 653.25"/>
<path class="t" d="M134.5 703.75 L134.5 804.38"/>
<path class="t" d="M246 703.75 L246 804.38"/>
<path class="t" d="M134.5 777.75 L157 777.75 L157 766.88 L224.5 766.88 L224.5 777.75 L246 777.75"/>
<ellipse class="tub" cx="191" cy="784.75" rx="26.5" ry="13.38"/>
<ellipse class="t" cx="191" cy="784.75" rx="25" ry="12"/>
<path class="t" stroke-dasharray="1.2 1.2" d="M117.88 705 L125.38 705 L125.38 727.5 L117.88 727.5"/>
<path class="t" stroke-dasharray="1.2 1.2" d="M117.88 781.25 L125.38 781.25 L125.38 803.75"/>
<path class="t" stroke-dasharray="1.2 1.2" d="M263.5 705 L254.75 705 L254.75 727.5 L263.5 727.5"/>
<path class="t" stroke-dasharray="1.2 1.2" d="M263.5 781.25 L254.75 781.25 L254.75 803.75"/>
<circle class="t" cx="124.12" cy="746.88" r="7"/>
<circle class="g" cx="124.12" cy="746.88" r="0.91"/>
<circle class="t" cx="255.62" cy="754" r="6.75"/>
<circle class="g" cx="255.62" cy="754" r="0.88"/>
<path class="t" stroke-dasharray="1.2 1.2" d="M69.12 861.25 L97.88 861.25 L97.88 844.38"/>
<rect class="t" x="75.38" y="846.88" width="15.37" height="13.12" rx="1.57" ry="1.57"/>
<circle class="g" cx="83.06" cy="853.44" r="1.05"/>
<rect class="t" x="102.25" y="844.38" width="12.25" height="5.15"/>
<rect class="t" x="102.74" y="847.47" width="11.27" height="17.53" rx="5.64" ry="5.64"/>
<rect class="t" x="443.12" y="532.5" width="11.88" height="4.4"/>
<rect class="t" x="443.6" y="535.14" width="10.92" height="17.36" rx="5.46" ry="5.46"/>
<rect class="t" x="470" y="531.88" width="17.5" height="17.5"/>
<circle class="t" cx="478.75" cy="540" r="6.25"/>
<circle class="g" cx="478.75" cy="540" r="0.81"/>
<path class="wn" d="M446.83 577.31 L462.46 593.19 L460.04 595.57 L444.41 579.69 Z"/>
<path class="d" d="M462.5 593.12 L477.5 577.5 A21.66 21.66 0 0 0 447.19 577.81"/>
<rect class="t" x="582.5" y="528.5" width="10.62" height="18.12"/>
<rect class="t" x="593.12" y="528.5" width="18.76" height="18.12"/>
<path class="t" d="M611.88 546.62 L626.25 546.62"/>
<rect class="t" x="618.75" y="532.5" width="15" height="13.75" rx="1.65" ry="1.65"/>
<circle class="g" cx="626.25" cy="539.38" r="1.1"/>
<path class="t" d="M626.25 531.5 L626.25 598.12"/>
<path class="t" d="M627.75 547.5 L627.75 598.12"/>
<path class="t" d="M586.25 578.12 L597.5 567.5 L610.62 578.12 L600 590 Z"/>
<path class="t" d="M606.25 598.12 L625 598.12"/>
<path class="t" d="M606.25 601.88 L625 601.88"/>
<rect class="t" x="638.75" y="533.12" width="17.5" height="54.38"/>
<path class="t" stroke-dasharray="1.2 1.2" d="M646.88 533.75 L646.88 586.88"/>
<path class="t" stroke-dasharray="1.2 1.2" d="M626.25 562.5 L633.75 562.5"/>
<path class="t" stroke-dasharray="1.2 1.2" d="M626.25 580 L633.75 580"/>
<g transform="translate(554.12 647.25) rotate(13.5)"><rect class="t" x="-4" y="-23.5" width="8" height="47" rx="4" ry="4"/></g>
<path class="t" stroke-width="0.6" stroke="#222" d="M563.5 631 C565.48 631.73 571.53 633.25 575.38 635.38 C579.23 637.51 583.29 640.79 586.62 643.81 C589.95 646.83 592.98 650.43 595.38 653.5 C597.78 656.57 600.06 660.79 601 662.25"/>
<path class="t" d="M563.5 628.81 C565.58 629.43 571.83 630.37 576 632.56 C580.17 634.75 584.85 638.66 588.5 641.94 C592.15 645.22 595.75 649.28 597.88 652.25 C600.01 655.22 600.74 658.5 601.31 659.75"/>
<path class="t" stroke-width="0.6" stroke="#222" d="M554.75 666.62 C555.58 666.93 558.08 667.46 559.75 668.5 C561.42 669.54 563.19 671.32 564.75 672.88 C566.31 674.44 568.39 677.05 569.12 677.88"/>
<path class="t" d="M553.81 668.81 C555.01 669.38 558.87 670.84 561 672.25 C563.13 673.66 565.06 675.58 566.62 677.25 C568.18 678.92 569.75 681.42 570.38 682.25"/>
<path class="t" d="M559.75 649.12 C561 649.64 564.75 650.79 567.25 652.25 C569.75 653.71 572.46 655.9 574.75 657.88 C577.04 659.86 579.23 661.83 581 664.12 C582.77 666.41 584.44 669.22 585.38 671.62 C586.32 674.02 586.41 677.35 586.62 678.5"/>
<path class="t" d="M586.62 678.5 L586.62 713.5"/>
<path class="k" stroke="#222" stroke-width="0.6" d="M563.5 631 L554.75 666.62"/>
<path class="k" stroke="#222" stroke-width="0.6" d="M569.75 677.88 L601.31 662.56"/>
<path class="t" d="M558.81 666.94 L574.75 636.62"/>
<path class="t" d="M563.5 670.38 L586 644.12"/>
<path class="t" d="M567.88 673.5 L595.38 653.5"/>
<path class="t" d="M571 680.38 L601 672.88"/>
<path class="t" d="M572.88 682.38 L601.31 682.38"/>
<path class="t" d="M572.88 683.5 L601.31 683.5"/>
<path class="t" d="M572.88 690.69 L601.31 690.69"/>
<path class="t" d="M572.88 698.5 L601.31 698.5"/>
<path class="t" d="M601.31 698.5 L572.88 730.38"/>
<g transform="translate(1616.62 669.75) rotate(13.5)"><rect class="t" x="-4" y="-23.5" width="8" height="47" rx="4" ry="4"/></g>
<path class="t" stroke-width="0.6" stroke="#222" d="M1626 653.5 C1627.98 654.23 1634.03 655.75 1637.88 657.88 C1641.73 660.01 1645.79 663.29 1649.12 666.31 C1652.45 669.33 1655.48 672.93 1657.88 676 C1660.28 679.07 1662.56 683.29 1663.5 684.75"/>
<path class="t" d="M1626 651.31 C1628.08 651.93 1634.33 652.87 1638.5 655.06 C1642.67 657.25 1647.35 661.16 1651 664.44 C1654.65 667.72 1658.25 671.78 1660.38 674.75 C1662.52 677.72 1663.24 681 1663.81 682.25"/>
<path class="t" stroke-width="0.6" stroke="#222" d="M1617.25 689.12 C1618.08 689.43 1620.58 689.96 1622.25 691 C1623.92 692.04 1625.69 693.82 1627.25 695.38 C1628.81 696.94 1630.89 699.55 1631.62 700.38"/>
<path class="t" d="M1616.31 691.31 C1617.51 691.88 1621.37 693.34 1623.5 694.75 C1625.63 696.16 1627.56 698.08 1629.12 699.75 C1630.68 701.42 1632.25 703.92 1632.88 704.75"/>
<path class="t" d="M1622.25 671.62 C1623.5 672.14 1627.25 673.29 1629.75 674.75 C1632.25 676.21 1634.96 678.4 1637.25 680.38 C1639.54 682.36 1641.73 684.33 1643.5 686.62 C1645.27 688.91 1646.94 691.72 1647.88 694.12 C1648.82 696.52 1648.91 699.85 1649.12 701"/>
<path class="t" d="M1649.12 701 L1649.12 736"/>
<path class="k" stroke="#222" stroke-width="0.6" d="M1626 653.5 L1617.25 689.12"/>
<path class="k" stroke="#222" stroke-width="0.6" d="M1632.25 700.38 L1663.81 685.06"/>
<path class="t" d="M1621.31 689.44 L1637.25 659.12"/>
<path class="t" d="M1626 692.88 L1648.5 666.62"/>
<path class="t" d="M1630.38 696 L1657.88 676"/>
<path class="t" d="M1633.5 702.88 L1663.5 695.38"/>
<path class="t" d="M1635.38 704.88 L1663.81 704.88"/>
<path class="t" d="M1635.38 706 L1663.81 706"/>
<path class="t" d="M1635.38 713.19 L1663.81 713.19"/>
<path class="t" d="M1635.38 721 L1663.81 721"/>
<path class="t" d="M1663.81 721 L1635.38 752.88"/>
<path class="t" d="M785.38 435 L785.38 598.12"/>
<path class="t" d="M767.25 451.5 L785.38 451.5"/>
<path class="t" d="M767.25 548.75 L785.38 548.75"/>
<path class="t" d="M767.25 566.88 L785.38 566.88"/>
<path class="t" d="M767.25 582.75 L785.38 582.75"/>
<path class="t" stroke-dasharray="1.2 1.2" d="M776 451.88 L776 548.12"/>
<rect class="tf" x="767.88" y="488.12" width="18.12" height="23.13"/>
<path class="t" d="M767.88 488.12 L776.88 499.62"/>
<path class="t" d="M776.88 488.12 L767.88 499.62"/>
<path class="t" d="M777 488.12 L786 499.62"/>
<path class="t" d="M786 488.12 L777 499.62"/>
<path class="t" d="M767.88 499.75 L776.88 511.25"/>
<path class="t" d="M776.88 499.75 L767.88 511.25"/>
<path class="t" d="M777 499.75 L786 511.25"/>
<path class="t" d="M786 499.75 L777 511.25"/>
<path class="t" d="M767.88 499.75 L786 499.75"/>
<path class="t" d="M777 488.12 L777 511.25"/>
<rect class="t" x="816.38" y="462.5" width="29" height="83.75"/>
<path class="t" d="M874.5 461.88 L898.75 461.88 L898.75 599 L814.5 599 L814.5 574.38 L874.5 574.38 Z"/>
<path class="t" d="M874.5 468.5 L892.25 468.5 L892.25 592.25 L821.62 592.25 L821.62 574.38"/>
<path class="t" d="M874.5 475.25 L892.25 475.25"/>
<path class="t" d="M874.5 493.75 L892.25 493.75"/>
<path class="t" d="M874.5 548.75 L892.25 548.75"/>
<path class="t" d="M874.5 566.88 L892.25 566.88"/>
<rect class="t" x="876.25" y="529.38" width="13.5" height="15" rx="1.62" ry="1.62"/>
<circle class="g" cx="883" cy="536.88" r="1.08"/>
<rect class="t" x="727.25" y="654.5" width="18" height="18" rx="1.25" ry="1.25"/>
<rect class="t" x="727.25" y="676.25" width="18" height="18" rx="1.25" ry="1.25"/>
<path class="t" d="M741.25 650.38 L741.25 783.5"/>
<rect class="t" x="726" y="703.5" width="14" height="15" rx="1.68" ry="1.68"/>
<circle class="g" cx="733" cy="711" r="1.12"/>
<path class="t" stroke-dasharray="1.2 1.2" d="M732.75 688.5 L732.75 726"/>
<path class="t" d="M723.12 726.25 L741.25 726.25"/>
<path class="t" d="M723.12 745.38 L741.25 745.38"/>
<path class="t" d="M723.12 764.38 L741.25 764.38"/>
<rect class="t" x="839.38" y="650.75" width="11.87" height="4"/>
<rect class="t" x="839.85" y="653.15" width="10.92" height="17.6" rx="5.46" ry="5.46"/>
<rect class="t" x="855.62" y="650.75" width="29.38" height="16.5"/>
<rect class="t" x="863.12" y="652.25" width="15" height="13.5" rx="1.62" ry="1.62"/>
<circle class="g" cx="870.62" cy="659" r="1.08"/>
<path class="t" d="M835.62 650.38 L835.62 700"/>
<rect class="t" x="892.5" y="653.5" width="13.12" height="13.75" rx="1.57" ry="1.57"/>
<circle class="g" cx="899.06" cy="660.38" r="1.05"/>
<path class="t" d="M907.5 652.25 L907.5 733.5"/>
<rect class="t" x="890" y="710.38" width="16.88" height="18.37"/>
<rect class="t" x="1113" y="580.5" width="14" height="15" rx="1.68" ry="1.68"/>
<circle class="g" cx="1120" cy="588" r="1.12"/>
<rect class="tf" x="1109.5" y="603.75" width="18.5" height="23.75"/>
<path class="t" d="M1109.5 615.5 L1128 615.5"/>
<path class="t" d="M1118.75 603.75 L1118.75 627.5"/>
<path class="t" d="M1109.5 603.75 L1118.75 615.5"/>
<path class="t" d="M1118.75 603.75 L1109.5 615.5"/>
<path class="t" d="M1118.75 603.75 L1128 615.5"/>
<path class="t" d="M1128 603.75 L1118.75 615.5"/>
<path class="t" d="M1109.5 615.5 L1118.75 627.25"/>
<path class="t" d="M1118.75 615.5 L1109.5 627.25"/>
<path class="t" d="M1118.75 615.5 L1128 627.25"/>
<path class="t" d="M1128 615.5 L1118.75 627.25"/>
<rect class="t" x="1892.29" y="458.32" width="31.25" height="17.09"/>
<circle class="t" cx="1910.35" cy="465.64" r="6.84"/>
<circle class="g" cx="1910.35" cy="465.64" r="0.89"/>
<rect class="t" x="1928.71" y="458.32" width="11.91" height="4.4"/>
<rect class="t" x="1929.19" y="460.96" width="10.96" height="17.38" rx="5.48" ry="5.48"/>
<rect class="t" x="1946.48" y="457.83" width="29.3" height="9.28"/>
<path class="t" d="M1949.41 467.11 L1949.41 515.94"/>
<rect class="t" x="1951.37" y="469.06" width="22.95" height="44.92" rx="10.74" ry="10.74"/>
<rect class="t" x="1892.29" y="556.46" width="23.43" height="17.58"/>
<circle class="t" cx="1902.54" cy="566.23" r="6.35"/>
<circle class="g" cx="1902.54" cy="566.23" r="0.83"/>
<rect class="t" x="1918.65" y="568.92" width="11.72" height="5.12"/>
<rect class="t" x="1919.12" y="553.54" width="10.78" height="17.43" rx="5.39" ry="5.39"/>
<path class="k" stroke-width="1.2" d="M1948.93 554.51 L1931.84 573.55"/>
<path class="wn" d="M1950.74 556.21 L1936.09 573.3 L1934.41 571.86 L1949.06 554.77 Z"/>
<path class="d" d="M1948.93 554.51 L1931.84 541.33 A21.58 21.58 0 0 0 1934.51 570.57"/>
<path class="t" d="M1829.3 501.29 L1837.6 501.29"/>
<path class="t" d="M1829.3 486.64 L1829.3 548.16"/>
<path class="t" d="M1838.57 486.64 L1838.57 548.16"/>
<path class="t" d="M1425 592.5 L1425 645 L1442.5 645"/>
<rect class="t" x="1428" y="608" width="14" height="15" rx="1.68" ry="1.68"/>
<circle class="g" cx="1435" cy="615.5" r="1.12"/>
<rect class="t" x="1363" y="648" width="5.81" height="12.5"/>
<rect class="t" x="1366.49" y="648.5" width="17.26" height="11.5" rx="5.75" ry="5.75"/>
<rect class="w" x="1461.25" y="588.5" width="20" height="4.25"/>
<path class="t" d="M1461.25 592.5 L1481.25 592.5"/>
<path class="t" d="M1461.25 589 L1468 582.5 L1475 589"/>
<path class="t" d="M1461.25 589 L1481.25 589"/>
<text class="l" x="247.75" y="386">Screened Porch</text>
<text class="l" x="166.75" y="507">Primary Bedroom</text>
<text class="l" x="380" y="518.75">Office</text>
<text class="l" x="536.25" y="407">Living Room</text>
<text class="l" x="463.25" y="565">Bath</text>
<text class="l" x="607.5" y="563.75">Bar</text>
<text class="l" x="840" y="365.75">Screened Porch</text>
<text class="l" x="700.5" y="525.5">Dining Area</text>
<text class="l" transform="translate(858 523) rotate(-90)" x="0" y="2.5">Kitchen</text>
<text class="l" x="533.25" y="611.5">Foyer</text>
<text class="l" x="681.25" y="628">Hall</text>
<text class="l" x="770.75" y="684.25">Laundry</text>
<text class="l" x="851.25" y="686.25">Bath</text>
<text class="l" x="831.75" y="778.25">Bedroom</text>
<text class="l" x="696.25" y="811.25">Hall</text>
<text class="l" x="746.25" y="812.75">Hall</text>
<text class="l" x="365.5" y="623.25">Hall</text>
<text class="l" x="117.5" y="617.5">W.I.C.</text>
<text class="l" x="240.75" y="625">W.I.C.</text>
<text class="l" x="243.75" y="678">Bath</text>
<text class="l" x="189.25" y="732">Primary Bath</text>
<text class="l" x="465.75" y="839.25">Floor 1</text>
<text class="l" x="102.5" y="880.25">Bath</text>
<text class="l" x="112" y="966.5">Bedroom</text>
<text class="l" x="770.75" y="941.75">Garage</text>
<text class="l" x="970" y="545.5">Family Room</text>
<text class="l" x="1085" y="616">Covered Patio</text>
<text class="l" x="1114.25" y="748.25">Patio</text>
<text class="l" x="1004.5" y="978">Swimming Pool</text>
<text class="l" x="1427.5" y="394.5">Balcony</text>
<text class="l" x="1596" y="419">Open To Below</text>
<text class="l" x="1763.5" y="402">Balcony</text>
<text class="l" x="1427" y="516">Bedroom</text>
<text class="l" x="1760" y="499.5">Bedroom</text>
<text class="l" x="1598.75" y="567.5">Hall</text>
<text class="l" x="1858.5" y="505.25">Hall</text>
<text class="l" x="1922" y="497.75">Bath</text>
<text class="l" x="1920.25" y="539.25">Bath</text>
<text class="l" x="1769.75" y="621.75">Bedroom</text>
<text class="l" x="1590.5" y="635">Open To Below</text>
<text class="l" x="1406" y="642.25">Bath</text>
<text class="l" x="1373" y="703.75">Floor 2</text>
<text class="l" x="1859.5" y="767.25">Terrace</text>
<text class="cap" x="1023.5" y="1490">Floor Plan Created By Cubicasa App. Measurements Deemed Highly Reliable But Not Guaranteed.</text>
</svg>
</body></html>
